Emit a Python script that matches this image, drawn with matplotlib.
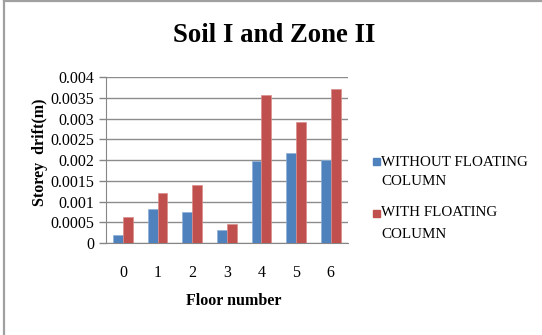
import matplotlib
matplotlib.use("Agg")
import matplotlib.pyplot as plt
import numpy as np
from matplotlib.lines import Line2D
from matplotlib.patches import Rectangle

floors = ["0", "1", "2", "3", "4", "5", "6"]
without_floating = [0.000185, 0.000827, 0.000747, 0.000313, 0.001968, 0.002169, 0.002000]
with_floating = [0.000619, 0.001200, 0.001406, 0.000458, 0.003582, 0.002924, 0.003719]
y_ticks = [0, 0.0005, 0.001, 0.0015, 0.002, 0.0025, 0.003, 0.0035, 0.004]
y_tick_labels = ["0", "0.0005", "0.001", "0.0015", "0.002", "0.0025", "0.003", "0.0035", "0.004"]
series_names = [["WITHOUT FLOATING", "COLUMN"], ["WITH FLOATING", "COLUMN"]]

BLUE = "#4f81bd"
RED = "#c0504d"
SERIF = ["Liberation Serif", "DejaVu Serif"]

W, H = 542, 335
fig = plt.figure(figsize=(W / 100, H / 100), dpi=100)
ax = fig.add_axes([0.195, 0.2746, 0.447, 0.495])

x = np.arange(len(floors))
w = 0.285
ax.bar(x - w / 2, without_floating, w, color=BLUE, edgecolor="#8fb0d8", linewidth=0.5, zorder=3)
ax.bar(x + w / 2, with_floating, w, color=RED, edgecolor="#d98c8a", linewidth=0.5, zorder=3)

ax.set_xlim(-0.5, len(floors) - 0.5)
ax.set_ylim(0, 0.004)
ax.set_yticks(y_ticks)
ax.set_yticklabels(y_tick_labels, family=SERIF, fontsize=11.5)
ax.set_xticks(x)
ax.set_xticklabels(floors, family=SERIF, fontsize=11.5)
ax.tick_params(axis="x", length=0, pad=16)
ax.tick_params(axis="y", length=5, color="#868686", width=1, pad=3)

ax.grid(axis="y", color="#8c8c8c", linewidth=1, zorder=0)
for side in ("top", "right"):
    ax.spines[side].set_visible(False)
ax.spines["left"].set_color("#868686")
ax.spines["bottom"].set_color("#868686")

ax.set_ylabel("Storey  drift(m)", family=SERIF, fontweight="bold", fontsize=11.5)
ax.yaxis.set_label_coords(-0.24, 0.55)
ax.set_xlabel("Floor number", family=SERIF, fontweight="bold", fontsize=11.5)
ax.xaxis.set_label_coords(0.528, -0.30)

fig.text(0.506, 0.895, "Soil I and Zone II", family=SERIF, fontweight="bold",
         fontsize=19.3, ha="center", va="center")

# legend: colour square next to the first line of each two-line entry
legend_rows = [(162, 182), (213, 235)]
for color, lines, (y1, y2) in zip([BLUE, RED], series_names, legend_rows):
    fig.add_artist(Rectangle((373 / W, 1 - (y1 + 3.5) / H), 7 / W, 7 / H,
                             transform=fig.transFigure, color=color))
    fig.text(381 / W, 1 - y1 / H, lines[0], family=SERIF, fontsize=10.8, va="center", ha="left")
    fig.text(381 / W, 1 - y2 / H, lines[1], family=SERIF, fontsize=10.8, va="center", ha="left")

# partial outer chart frame along the top and left edges
fig.add_artist(Line2D([0.008, 0.008], [0, 0.996], transform=fig.transFigure,
                      color="#a0a0a0", linewidth=1.6))
fig.add_artist(Line2D([0.008, 1.0], [0.996, 0.996], transform=fig.transFigure,
                      color="#a0a0a0", linewidth=1.6))

fig.savefig("out.png", dpi=100)
